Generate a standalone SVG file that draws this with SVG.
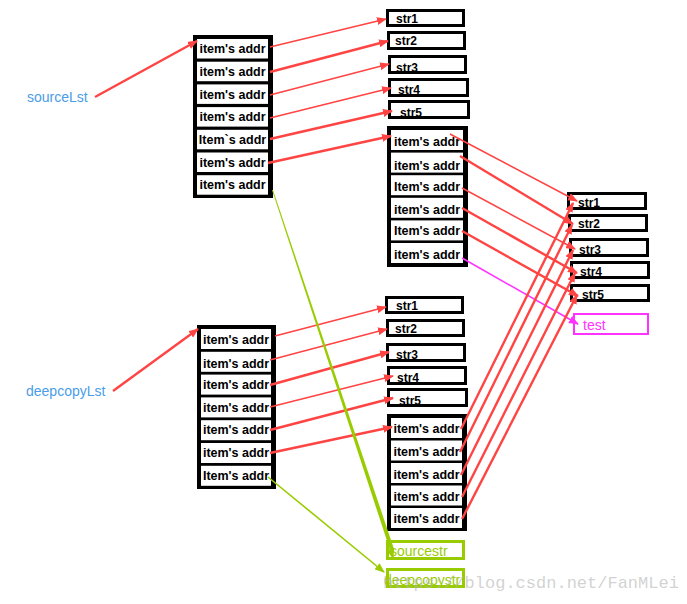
<svg xmlns="http://www.w3.org/2000/svg" width="687" height="604" viewBox="0 0 687 604">
<defs>
<marker id="ar" viewBox="0 0 10 8" refX="9" refY="4" markerWidth="10" markerHeight="8" markerUnits="userSpaceOnUse" orient="auto"><path d="M0,0 L10,4 L0,8 z" fill="#ff4444"/></marker>
<marker id="am" viewBox="0 0 10 8" refX="9" refY="4" markerWidth="10" markerHeight="8" markerUnits="userSpaceOnUse" orient="auto"><path d="M0,0 L10,4 L0,8 z" fill="#ff33ff"/></marker>
<marker id="ag" viewBox="0 0 10 8" refX="9" refY="4" markerWidth="10" markerHeight="8" markerUnits="userSpaceOnUse" orient="auto"><path d="M0,0 L10,4 L0,8 z" fill="#99cc00"/></marker>
</defs>
<style>
.frame{fill:#000}
.cell{fill:#fff}
.it{font-family:"Liberation Sans",Arial,sans-serif;font-weight:bold;font-size:12.5px;fill:#000;text-anchor:middle}
.sb{fill:#fff;stroke:#000;stroke-width:3}
.st{font-family:"Liberation Sans",Arial,sans-serif;font-weight:bold;font-size:12px;fill:#000}
.lbl{font-family:"Liberation Sans",Arial,sans-serif;font-size:14px;fill:#4a9de8}
.gb{fill:#fff;stroke:#99cc00;stroke-width:3}
.gt{font-family:"Liberation Sans",Arial,sans-serif;font-size:14px;fill:#99cc00}
.r{stroke:#ff4444;stroke-width:1.6;fill:none;marker-end:url(#ar)}
.rt{stroke:#ff4444;stroke-width:2.4;fill:none;marker-end:url(#ar)}
</style>
<rect width="687" height="604" fill="#fff"/>
<g id="sourceLst-label"><text class="lbl" x="27" y="102">sourceLst</text></g>
<g id="deepcopyLst-label"><text class="lbl" x="26" y="396">deepcopyLst</text></g>
<g id="sourceLst">
<rect class="frame" x="193" y="35" width="80" height="163"/>
<rect class="cell" x="197" y="39" width="71" height="19.5"/>
<rect class="cell" x="197" y="61.7" width="71" height="19.5"/>
<rect class="cell" x="197" y="84.4" width="71" height="19.5"/>
<rect class="cell" x="197" y="107.1" width="71" height="19.5"/>
<rect class="cell" x="197" y="129.8" width="71" height="19.5"/>
<rect class="cell" x="197" y="152.5" width="71" height="19.5"/>
<rect class="cell" x="197" y="175.2" width="71" height="19.5"/>
<text class="it" x="232.5" y="53">item's addr</text>
<text class="it" x="232.5" y="76">item's addr</text>
<text class="it" x="232.5" y="98.5">item's addr</text>
<text class="it" x="232.5" y="121">item's addr</text>
<text class="it" x="232.5" y="143.5">Item`s addr</text>
<text class="it" x="232.5" y="166.5">item's addr</text>
<text class="it" x="232.5" y="189">item's addr</text>
</g>
<g id="sourceInner">
<rect class="frame" x="387" y="126" width="81" height="141"/>
<rect class="cell" x="391" y="130" width="72" height="20"/>
<rect class="cell" x="391" y="152.6" width="72" height="20"/>
<rect class="cell" x="391" y="175.2" width="72" height="20"/>
<rect class="cell" x="391" y="197.8" width="72" height="20"/>
<rect class="cell" x="391" y="220.4" width="72" height="20"/>
<rect class="cell" x="391" y="243" width="72" height="20"/>
<text class="it" x="427" y="146">item's addr</text>
<text class="it" x="427" y="170">item's addr</text>
<text class="it" x="427" y="191">Item's addr</text>
<text class="it" x="427" y="214">item's addr</text>
<text class="it" x="427" y="235">Item's addr</text>
<text class="it" x="427" y="259">item's addr</text>
</g>
<g id="deepcopyLst">
<rect class="frame" x="197" y="325" width="79" height="164"/>
<rect class="cell" x="201" y="329" width="70" height="20"/>
<rect class="cell" x="201" y="351.8" width="70" height="20"/>
<rect class="cell" x="201" y="374.6" width="70" height="20"/>
<rect class="cell" x="201" y="397.4" width="70" height="20"/>
<rect class="cell" x="201" y="420.2" width="70" height="20"/>
<rect class="cell" x="201" y="443" width="70" height="20"/>
<rect class="cell" x="201" y="465.8" width="70" height="20"/>
<text class="it" x="236" y="344">item's addr</text>
<text class="it" x="236" y="368">item's addr</text>
<text class="it" x="236" y="389">item's addr</text>
<text class="it" x="236" y="412">item's addr</text>
<text class="it" x="236" y="434">item's addr</text>
<text class="it" x="236" y="457">item's addr</text>
<text class="it" x="236" y="480">Item's addr</text>
</g>
<g id="deepInner">
<rect class="frame" x="387" y="414" width="80" height="117"/>
<rect class="cell" x="391" y="418" width="71" height="20"/>
<rect class="cell" x="391" y="440.5" width="71" height="20"/>
<rect class="cell" x="391" y="463" width="71" height="20"/>
<rect class="cell" x="391" y="485.5" width="71" height="20"/>
<rect class="cell" x="391" y="508" width="71" height="20"/>
<text class="it" x="426.5" y="433">item's addr</text>
<text class="it" x="426.5" y="456">item's addr</text>
<text class="it" x="426.5" y="479">item's addr</text>
<text class="it" x="426.5" y="501">item's addr</text>
<text class="it" x="426.5" y="523">item's addr</text>
</g>
<g id="topStr1"><rect class="sb" x="387.5" y="10.5" width="76" height="15"/><text class="st" x="396" y="23">str1</text></g>
<g id="topStr2"><rect class="sb" x="388.5" y="32.5" width="76" height="16"/><text class="st" x="395" y="45">str2</text></g>
<g id="topStr3"><rect class="sb" x="389.5" y="56.5" width="76" height="16"/><text class="st" x="396" y="72">str3</text></g>
<g id="topStr4"><rect class="sb" x="389.5" y="79.5" width="78" height="16"/><text class="st" x="398" y="94">str4</text></g>
<g id="topStr5"><rect class="sb" x="389.5" y="101.5" width="79" height="16"/><text class="st" x="400" y="117">str5</text></g>
<g id="rStr1"><rect class="sb" x="568.5" y="193.5" width="77" height="15"/><text class="st" x="578" y="207">str1</text></g>
<g id="rStr2"><rect class="sb" x="569.5" y="215.5" width="77" height="15"/><text class="st" x="578" y="228">str2</text></g>
<g id="rStr3"><rect class="sb" x="570.5" y="239.5" width="77" height="16"/><text class="st" x="579" y="254">str3</text></g>
<g id="rStr4"><rect class="sb" x="571.5" y="262.5" width="77" height="15"/><text class="st" x="580" y="276">str4</text></g>
<g id="rStr5"><rect class="sb" x="571.5" y="285.5" width="77" height="15"/><text class="st" x="582" y="299">str5</text></g>
<g id="test"><rect x="574" y="314" width="74" height="20" fill="#fff" stroke="#ff33ff" stroke-width="2"/><text x="583" y="330" font-family="Liberation Sans, Arial, sans-serif" font-size="14" fill="#ff33ff">test</text></g>
<g id="mStr1"><rect class="sb" x="386.5" y="297.5" width="76" height="15"/><text class="st" x="396" y="310">str1</text></g>
<g id="mStr2"><rect class="sb" x="387.5" y="320.5" width="76" height="15"/><text class="st" x="395" y="333">str2</text></g>
<g id="mStr3"><rect class="sb" x="387.5" y="344.5" width="77" height="16"/><text class="st" x="396" y="359">str3</text></g>
<g id="mStr4"><rect class="sb" x="388.5" y="367.5" width="77" height="16"/><text class="st" x="397" y="382">str4</text></g>
<g id="mStr5"><rect class="sb" x="388.5" y="389.5" width="78" height="16"/><text class="st" x="399" y="405">str5</text></g>
<g id="sourcestr"><rect class="gb" x="387.5" y="541.5" width="76" height="17"/><text class="gt" x="390" y="556">sourcestr</text></g>
<g id="deepcopystr"><rect class="gb" x="387.5" y="569.5" width="76" height="17"/><text class="gt" x="384" y="585">deepcopystr</text></g>
<g id="connectors">
<line class="rt" x1="95" y1="97" x2="197" y2="41"/>
<line class="rt" x1="113" y1="391" x2="198" y2="329"/>
<line class="r" x1="270" y1="47" x2="386" y2="19"/>
<line class="rt" x1="270" y1="72" x2="388" y2="41"/>
<line class="r" x1="270" y1="95" x2="389" y2="64"/>
<line class="r" x1="270" y1="118" x2="391" y2="88"/>
<line class="rt" x1="270" y1="139" x2="392" y2="111"/>
<line class="rt" x1="268" y1="163" x2="391" y2="136"/>
<line class="r" x1="450" y1="134" x2="577" y2="201"/>
<line class="rt" x1="460" y1="156" x2="573" y2="224"/>
<line class="r" x1="462" y1="188" x2="575" y2="249"/>
<line class="rt" x1="462" y1="208" x2="577" y2="273"/>
<line class="rt" x1="462" y1="231" x2="578" y2="296"/>
<line x1="462" y1="258" x2="578" y2="324" stroke="#ff33ff" stroke-width="1.6" marker-end="url(#am)"/>
<line class="rt" x1="461" y1="429" x2="573" y2="203"/>
<line class="rt" x1="460" y1="452" x2="572" y2="225"/>
<line class="rt" x1="461" y1="475" x2="573" y2="250"/>
<line class="rt" x1="462" y1="497" x2="575" y2="273"/>
<line class="rt" x1="462" y1="519" x2="577" y2="295"/>
<line class="r" x1="275" y1="336" x2="386" y2="307"/>
<line class="r" x1="270" y1="360" x2="387" y2="329"/>
<line class="rt" x1="270" y1="385" x2="389" y2="352"/>
<line class="r" x1="270" y1="407" x2="393" y2="376"/>
<line class="rt" x1="270" y1="430" x2="393" y2="398"/>
<line class="rt" x1="270" y1="453" x2="392" y2="427"/>
<polygon points="272,190 273,190 394,549 390,550" fill="#99cc00"/>
<line x1="390" y1="548" x2="393" y2="558" stroke="#99cc00" stroke-width="2" marker-end="url(#ag)"/>
<line x1="268" y1="477" x2="384" y2="572" stroke="#99cc00" stroke-width="1.6" marker-end="url(#ag)"/>
</g>
<g id="watermark"><text x="383" y="588" font-family="Liberation Mono, Courier New, monospace" font-size="17" fill="#b4b4b4" fill-opacity="0.6">https://blog.csdn.net/FanMLei</text></g>
</svg>
